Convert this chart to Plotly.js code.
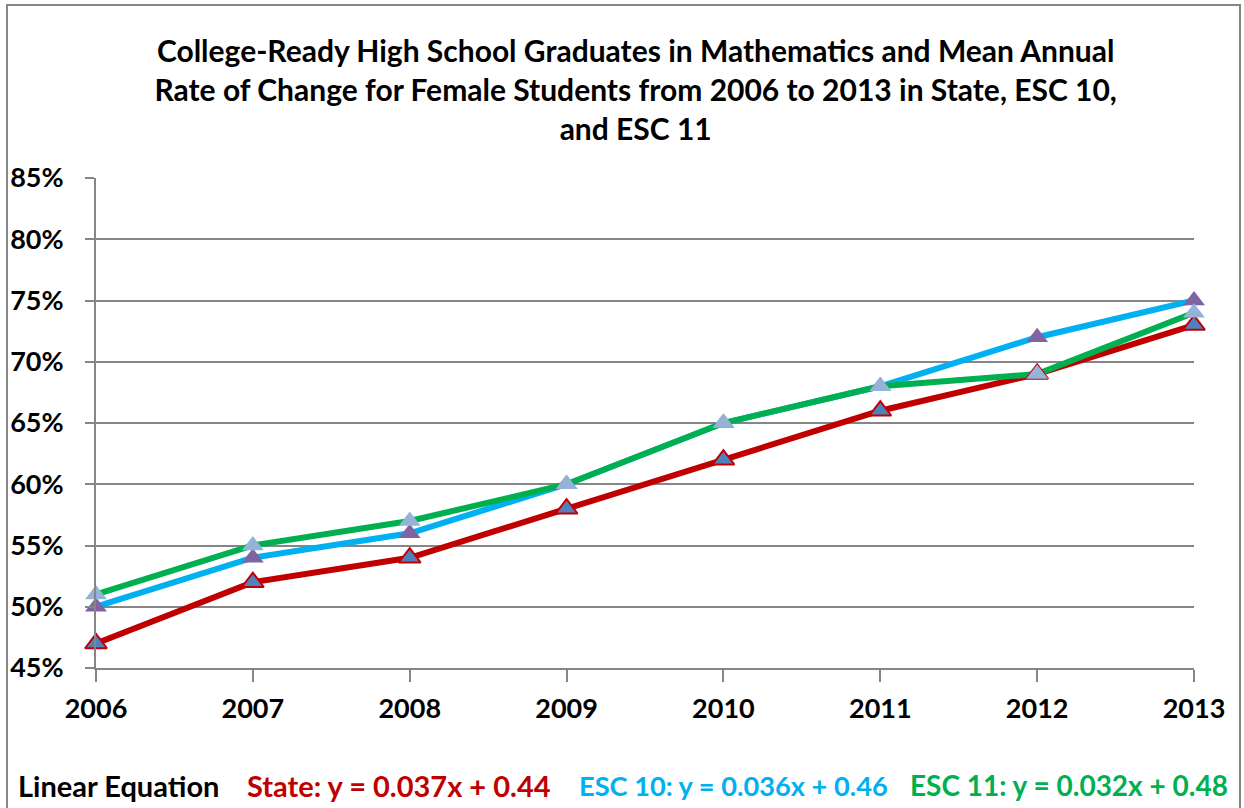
<!DOCTYPE html>
<html>
<head>
<meta charset="utf-8">
<script src="https://cdn.plot.ly/plotly-3.0.1.min.js"></script>
<style>html,body{margin:0;padding:0;background:#fff;}#chart{width:1244px;height:808px;}</style>
</head>
<body>
<div id="chart"></div>
<script>
const years = [2006, 2007, 2008, 2009, 2010, 2011, 2012, 2013];
const stateVals = [0.47, 0.52, 0.54, 0.58, 0.62, 0.66, 0.69, 0.73];
const esc10Vals = [0.50, 0.54, 0.56, 0.60, 0.65, 0.68, 0.72, 0.75];
const esc11Vals = [0.51, 0.55, 0.57, 0.60, 0.65, 0.68, 0.69, 0.74];
const yTicks = [0.45, 0.50, 0.55, 0.60, 0.65, 0.70, 0.75, 0.80, 0.85];
const yTickText = ["45%", "50%", "55%", "60%", "65%", "70%", "75%", "80%", "85%"];
const titleText = "College-Ready High School Graduates in Mathematics and Mean Annual<br>Rate of Change for Female Students from 2006 to 2013 in State, ESC 10,<br>and ESC 11";
const eqLabel = "Linear Equation";
const eqState = "State: y = 0.037x + 0.44";
const eqEsc10 = "ESC 10: y = 0.036x + 0.46";
const eqEsc11 = "ESC 11: y = 0.032x + 0.48";

const FONT = "Lato, 'Open Sans', sans-serif";
const W = 1244, H = 808;
const L = 96, R = 50, T = 178, B = 140;
const pw = W - L - R, ph = H - T - B;
const px = v => (v - L) / pw;
const py = v => (H - B - v) / ph;

const lineTrace = (y, color, name) => ({
  x: years, y: y, type: 'scatter', mode: 'lines', name: name,
  line: {color: color, width: 6}, cliponaxis: false, hoverinfo: 'skip'
});
const markTrace = (y, fill, outline, name) => ({
  x: years, y: y, type: 'scatter', mode: 'markers', name: name,
  marker: {symbol: 'triangle-up', size: 19, color: fill, line: {color: outline, width: outline === fill ? 0 : 2}},
  cliponaxis: false
});

const data = [
  lineTrace(stateVals, '#C00000', 'State'),
  lineTrace(esc10Vals, '#00B0F0', 'ESC 10'),
  lineTrace(esc11Vals, '#00B050', 'ESC 11'),
  markTrace(stateVals, '#4F81BD', '#C00000', 'State'),
  markTrace(esc10Vals, '#8064A2', '#8064A2', 'ESC 10'),
  markTrace(esc11Vals, '#95B3D7', '#95B3D7', 'ESC 11')
];

const eqAnn = (text, color, xPix, size) => ({
  xref: 'paper', yref: 'paper', x: px(xPix), y: py(785), xanchor: 'left', yanchor: 'middle',
  showarrow: false, font: {family: FONT, size: size, color: color, weight: 'bold'},
  text: text
});

const layout = {
  width: W, height: H,
  margin: {l: L, r: R, t: T, b: B, pad: 0},
  paper_bgcolor: '#fff', plot_bgcolor: '#fff',
  showlegend: false,
  font: {family: FONT, color: '#000'},
  title: {
    text: '<b>' + titleText + '</b>',
    font: {family: FONT, size: 30, color: '#000'},
    x: 0.511, xanchor: 'center', y: 1 - 62 / H, yanchor: 'top', yref: 'container'
  },
  xaxis: {
    range: [2006, 2013], tickvals: years, ticktext: years.map(String),
    showgrid: false, zeroline: false, showline: true, linecolor: '#868686', linewidth: 2,
    ticks: 'outside', ticklen: 12, tickwidth: 2, tickcolor: '#868686',
    tickfont: {family: FONT, size: 27, color: '#000', weight: 'bold'},
    ticklabelstandoff: 4
  },
  yaxis: {
    range: [0.45, 0.85], tickvals: yTicks, ticktext: yTickText,
    showgrid: true, gridcolor: '#868686', gridwidth: 2, zeroline: false,
    showline: true, linecolor: '#868686', linewidth: 2,
    ticks: 'outside', ticklen: 9, tickwidth: 2, tickcolor: '#868686',
    tickfont: {family: FONT, size: 27, color: '#000', weight: 'bold'},
    ticklabelstandoff: 16
  },
  shapes: [{
    type: 'rect', xref: 'paper', yref: 'paper',
    x0: px(7), x1: px(1240), y0: py(830), y1: py(5),
    line: {color: '#868686', width: 2}, fillcolor: 'rgba(0,0,0,0)', layer: 'below'
  }],
  annotations: [
    eqAnn(eqLabel, '#000000', 16, 29),
    eqAnn(eqState, '#C00000', 245, 29),
    eqAnn(eqEsc10, '#00B0F0', 577, 27.2),
    eqAnn(eqEsc11, '#00B050', 908, 28)
  ]
};

Plotly.newPlot('chart', data, layout, {displayModeBar: false, staticPlot: true});
</script>
</body>
</html>
